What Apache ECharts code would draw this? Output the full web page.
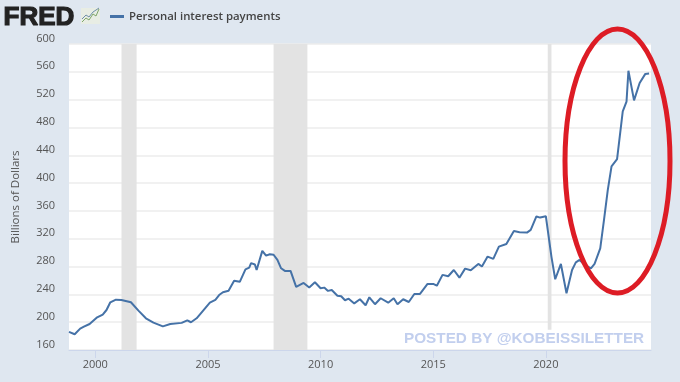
<!DOCTYPE html>
<html>
<head>
<meta charset="utf-8">
<title>Personal interest payments</title>
<script src="https://cdn.jsdelivr.net/npm/echarts@6/dist/echarts.min.js"></script>
<style>
html, body { margin: 0; padding: 0; background: #dfe7f0; }
#chart { width: 680px; height: 382px; }
</style>
</head>
<body>
<div id="chart"></div>
<script>
var dates = [
    '1998-11', '1999-02', '1999-05', '1999-07', '1999-10', '2000-02', '2000-05', '2000-07', '2000-09', '2000-12',
    '2001-03', '2001-08', '2001-12', '2002-04', '2002-08', '2003-01', '2003-05', '2003-11', '2004-02', '2004-04',
    '2004-07', '2004-11', '2005-02', '2005-05', '2005-07', '2005-09', '2005-12', '2006-03', '2006-06', '2006-09',
    '2006-11', '2006-12', '2007-02', '2007-03', '2007-06', '2007-08', '2007-10', '2007-12', '2008-02', '2008-04',
    '2008-06', '2008-09', '2008-12', '2009-04', '2009-07', '2009-10', '2009-11', '2010-01', '2010-03', '2010-05',
    '2010-07', '2010-10', '2010-12', '2011-02', '2011-04', '2011-07', '2011-10', '2012-01', '2012-03', '2012-06',
    '2012-09', '2013-01', '2013-04', '2013-06', '2013-09', '2013-12', '2014-03', '2014-06', '2014-10', '2015-01',
    '2015-03', '2015-06', '2015-09', '2015-12', '2016-03', '2016-06', '2016-09', '2017-01', '2017-03', '2017-06',
    '2017-09', '2017-12', '2018-04', '2018-08', '2018-11', '2019-03', '2019-05', '2019-08', '2019-10', '2020-01',
    '2020-02', '2020-04', '2020-06', '2020-09', '2020-12', '2021-03', '2021-05', '2021-07', '2021-10', '2022-01',
    '2022-03', '2022-06', '2022-08', '2022-10', '2022-12', '2023-03', '2023-06', '2023-08', '2023-09', '2023-12',
    '2024-03', '2024-06', '2024-08'
];
var payments = [
    186, 182.6, 190.7, 193.5, 197.4, 207, 211, 217.5, 228.6, 232.4,
    232, 228.6, 216.6, 205.6, 199.3, 194, 197.4, 199, 202.7, 199.9,
    205.6, 218.5, 228, 232, 239, 243, 245.3, 259.7, 258, 276,
    278.5, 285, 283, 275, 302.5, 295.7, 297.7, 297, 289.5, 277.5,
    273.7, 273.7, 250.7, 256.4, 250, 257.4, 254.5, 248.8, 249.7, 245,
    246.3, 238, 237.3, 231.5, 233.8, 227, 232.9, 224.3, 235.8, 225.8,
    234.4, 228, 234.4, 225.8, 233, 229, 240.6, 240.6, 255, 255,
    252.5, 268, 266, 275, 264, 277, 274.7, 283.8, 280, 294.3,
    291, 308.7, 312.5, 331, 329.4, 328.8, 332.7, 352, 350.4, 352.4,
    351, 294, 261.7, 283.7, 241.6, 275, 286, 289.5, 282, 277.5,
    283.8, 306, 347, 390, 424, 434.4, 503, 517, 561.5, 519,
    544, 557, 557.6
];
var yearTicks = ['2000-01', '2005-01', '2010-01', '2015-01', '2020-01'];
var recessions = [['2001-03', '2001-11'], ['2007-12', '2009-06']];
var covidRecession = ['2020-02', '2020-04'];
var seriesName = 'Personal interest payments';

// value axis on timestamps: the time axis can't take customValues
function ms(d) {
    return +echarts.time.parse(d);
}

var lineData = dates.map(function (d, i) {
    return [ms(d), payments[i]];
});

var bands = recessions.map(function (r) {
    return [{ xAxis: ms(r[0]) }, { xAxis: ms(r[1]) }];
});
// the watermark patch cuts the 2020 band off above the axis
bands.push([{ xAxis: ms(covidRecession[0]), yAxis: 600 }, { xAxis: ms(covidRecession[1]), yAxis: 189 }]);

var myChart = echarts.init(document.getElementById('chart'));
var option = {
    animation: false,
    backgroundColor: '#dfe7f0',
    textStyle: { fontFamily: '"Open Sans", sans-serif' },
    grid: {
        show: true,
        left: 69,
        right: 29,
        top: 44,
        bottom: 32,
        outerBoundsMode: 'none',
        backgroundColor: '#fff',
        borderWidth: 0
    },
    legend: {
        data: [seriesName],
        left: 105,
        top: 6,
        icon: 'rect',
        itemWidth: 14,
        itemHeight: 3,
        itemGap: 5,
        textStyle: { color: '#444', fontSize: 11.4, fontWeight: 600, fontFamily: '"Open Sans", sans-serif' }
    },
    xAxis: {
        type: 'value',
        min: ms('1998-11'),
        max: ms('2024-09'),
        axisLine: { onZero: false, lineStyle: { color: '#ccd6eb' } },
        axisTick: { show: true, customValues: yearTicks.map(ms), length: 8, lineStyle: { color: '#ccd6eb' } },
        axisLabel: {
            customValues: yearTicks.map(ms),
            color: '#555',
            fontSize: 11,
            margin: 9,
            formatter: function (v) { return String(new Date(v).getFullYear()); }
        },
        splitLine: { show: false }
    },
    yAxis: {
        type: 'value',
        min: 160,
        max: 600,
        interval: 40,
        name: 'Billions of Dollars',
        nameLocation: 'middle',
        nameGap: 47,
        nameTextStyle: { color: '#555', fontSize: 11.5 },
        axisLine: { show: false },
        axisTick: { show: false },
        axisLabel: { color: '#555', fontSize: 11, margin: 14, verticalAlign: 'bottom' },
        splitLine: { lineStyle: { color: '#ececec', width: 1.5 } }
    },
    series: [{
        name: seriesName,
        type: 'line',
        data: lineData,
        showSymbol: false,
        color: '#4572a7',
        lineStyle: { width: 2 },
        markArea: {
            silent: true,
            itemStyle: { color: '#e3e3e3' },
            data: bands
        }
    }],
    graphic: [
        { type: 'text', left: 3, top: 4, style: { text: 'FRED', fontFamily: '"Liberation Sans"', fontWeight: 'bold', fontSize: 26, fill: '#222', stroke: '#222', lineWidth: 1.2 } },
        { type: 'rect', shape: { x: 81, y: 8, width: 19, height: 16 }, style: { fill: '#e8ede4' } },
        { type: 'polyline', shape: { points: [[82, 22], [86, 18], [89, 20], [93, 14], [96, 16], [99, 9]] }, style: { stroke: '#7fa66a', lineWidth: 1, fill: null } },
        { type: 'polyline', shape: { points: [[82, 19], [86, 15], [89, 17], [93, 12], [99, 8]] }, style: { stroke: '#6f8fa8', lineWidth: 1, fill: null } },
        { type: 'ellipse', z: 20, shape: { cx: 617.5, cy: 161, rx: 52.5, ry: 132 }, style: { fill: null, stroke: '#dd1c25', lineWidth: 5 } },
        { type: 'text', z: 20, left: 404, top: 331, style: { text: 'POSTED BY @KOBEISSILETTER', fontFamily: '"Liberation Sans"', fontWeight: 'bold', fontSize: 15.3, fill: '#c2cfee' } }
    ]
};
myChart.setOption(option);
</script>
</body>
</html>
